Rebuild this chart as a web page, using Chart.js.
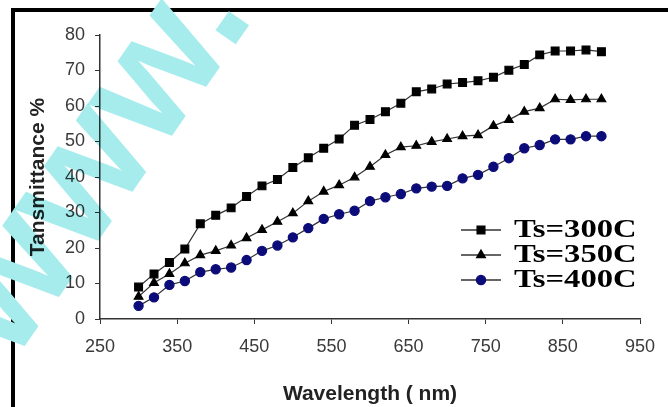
<!DOCTYPE html>
<html>
<head>
<meta charset="utf-8">
<script src="https://cdn.jsdelivr.net/npm/chart.js@4.4.0/dist/chart.umd.min.js"></script>
<style>
  html, body { margin: 0; padding: 0; background: #fff; }
  #wrap { position: relative; width: 668px; height: 407px; overflow: hidden; }
  #frame { position: absolute; left: 11px; top: 8px; width: 700px; height: 450px;
           border-top: 4px solid #000; border-left: 4px solid #000; box-sizing: border-box; }
  canvas { position: absolute; left: 0; top: 0; }
</style>
</head>
<body>
<div id="wrap">
  <div id="frame"></div>
  <canvas id="myChart" width="668" height="407"></canvas>
</div>
<script>
// wavelength (nm)
const wavelengths = [300, 320, 340, 360, 380, 400, 420, 440, 460, 480, 500, 520, 540, 560, 580, 600,
                     620, 640, 660, 680, 700, 720, 740, 760, 780, 800, 820, 840, 860, 880, 900];
// transmittance % for each substrate temperature
const ts300 = [9.0, 12.7, 15.9, 19.7, 26.8, 29.2, 31.3, 34.5, 37.5, 39.3, 42.7, 45.4, 48.1, 50.7, 54.6, 56.2,
               58.4, 60.8, 64.0, 64.8, 66.2, 66.6, 67.1, 68.1, 70.1, 71.7, 74.4, 75.5, 75.5, 75.8, 75.3];
const ts350 = [6.3, 10.2, 12.7, 15.7, 18.0, 19.2, 20.7, 22.8, 25.1, 27.4, 29.8, 33.2, 35.9, 37.7, 39.9, 42.9,
               46.2, 48.4, 48.8, 49.9, 50.7, 51.5, 51.8, 54.4, 56.1, 58.4, 59.4, 61.9, 61.7, 61.9, 61.9];
const ts400 = [3.7, 6.1, 9.6, 10.7, 13.2, 14.0, 14.5, 16.6, 19.2, 20.7, 23.0, 25.6, 28.2, 29.5, 30.5, 33.2,
               34.3, 35.2, 36.8, 37.3, 37.5, 39.6, 40.6, 42.9, 45.3, 48.1, 49.0, 50.6, 50.6, 51.5, 51.5];
const seriesNames = ['Ts=300C', 'Ts=350C', 'Ts=400C'];
const xTicks = [250, 350, 450, 550, 650, 750, 850, 950];
const yTicks = [0, 10, 20, 30, 40, 50, 60, 70, 80];

const sansFont = "'Liberation Sans', Arial, sans-serif";

function toPoints(vals) {
    return wavelengths.map((w, i) => ({ x: w, y: vals[i] }));
}

// legend drawn inside the plot, lower right
const insideLegend = {
    id: 'insideLegend',
    afterDraw(chart) {
        const ctx = chart.ctx;
        const area = chart.chartArea;
        chart.data.datasets.forEach((ds, i) => {
            const y = area.bottom - 89 + i * 25;
            const x0 = area.right - 179, x1 = area.right - 139;
            ctx.save();
            ctx.strokeStyle = ds.borderColor;
            ctx.lineWidth = 1.3;
            ctx.beginPath();
            ctx.moveTo(x0, y);
            ctx.lineTo(x1, y);
            ctx.stroke();
            ctx.fillStyle = ds.pointBackgroundColor;
            ctx.strokeStyle = ds.pointBorderColor;
            Chart.helpers.drawPoint(ctx, {
                pointStyle: ds.pointStyle, radius: ds.pointRadius, rotation: 0, borderWidth: 1
            }, (x0 + x1) / 2, y);
            ctx.translate(area.right - 126, y);
            ctx.scale(1.36, 1.04);
            ctx.fillStyle = '#000';
            ctx.font = "bold 24px 'Liberation Serif', 'Times New Roman', serif";
            ctx.textBaseline = 'middle';
            ctx.fillText(seriesNames[i], 0, 1);
            ctx.restore();
        });
    }
};

// cyan "www." watermark across the left part
const watermark = {
    id: 'watermark',
    afterDraw(chart) {
        const ctx = chart.ctx;
        ctx.save();
        ctx.globalCompositeOperation = 'multiply';
        ctx.translate(12, 364);
        ctx.rotate(-55 * Math.PI / 180);
        ctx.fillStyle = 'rgb(166, 236, 237)';
        ctx.font = "bold 165px " + sansFont;
        ctx.textBaseline = 'alphabetic';
        ctx.fillText('www.', 0, 0);
        ctx.restore();
    }
};

const ctx = document.getElementById('myChart').getContext('2d');
const myChart = new Chart(ctx, {
    type: 'line',
    data: {
        datasets: [{
            label: seriesNames[0],
            data: toPoints(ts300),
            borderColor: '#333',
            borderWidth: 1.2,
            pointStyle: 'rect',
            pointRadius: 5.5,
            pointBackgroundColor: '#000',
            pointBorderColor: '#000'
        }, {
            label: seriesNames[1],
            data: toPoints(ts350),
            borderColor: '#333',
            borderWidth: 1.2,
            pointStyle: 'triangle',
            pointRadius: 5,
            pointBackgroundColor: '#000',
            pointBorderColor: '#000'
        }, {
            label: seriesNames[2],
            data: toPoints(ts400),
            borderColor: '#333',
            borderWidth: 1.2,
            pointStyle: 'circle',
            pointRadius: 4.6,
            pointBackgroundColor: '#0b0b7a',
            pointBorderColor: '#0b0b7a'
        }]
    },
    options: {
        responsive: false,
        animation: false,
        layout: { padding: { left: 0, top: 35, right: 28, bottom: 0 } },
        plugins: {
            legend: { display: false },
            tooltip: { enabled: false }
        },
        scales: {
            x: {
                type: 'linear',
                min: 250,
                max: 950,
                afterBuildTicks: scale => { scale.ticks = xTicks.map(v => ({ value: v })); },
                afterFit: scale => { scale.height = 88; },
                grid: { drawOnChartArea: false, drawTicks: true, tickLength: 5, color: '#333' },
                border: { color: '#333', width: 1.5 },
                ticks: { color: '#3a3a3a', padding: 12, font: { family: sansFont, size: 18 } },
                title: {
                    display: true,
                    text: 'Wavelength ( nm)',
                    color: '#222',
                    padding: { top: 7, bottom: 0 },
                    font: { family: sansFont, size: 21, weight: 'bold' }
                }
            },
            y: {
                min: 0,
                max: 80,
                afterBuildTicks: scale => { scale.ticks = yTicks.map(v => ({ value: v })); },
                afterFit: scale => { scale.width = 100; },
                grid: { drawOnChartArea: false, drawTicks: true, tickLength: 5, color: '#333' },
                border: { color: '#333', width: 1.5 },
                ticks: { color: '#3a3a3a', padding: 10, font: { family: sansFont, size: 18 } },
                title: {
                    display: true,
                    text: 'Tansmittance %',
                    color: '#222',
                    padding: { top: 26, bottom: 0 },
                    font: { family: sansFont, size: 21, weight: 'bold' }
                }
            }
        }
    },
    plugins: [insideLegend, watermark]
});
</script>
</body>
</html>
